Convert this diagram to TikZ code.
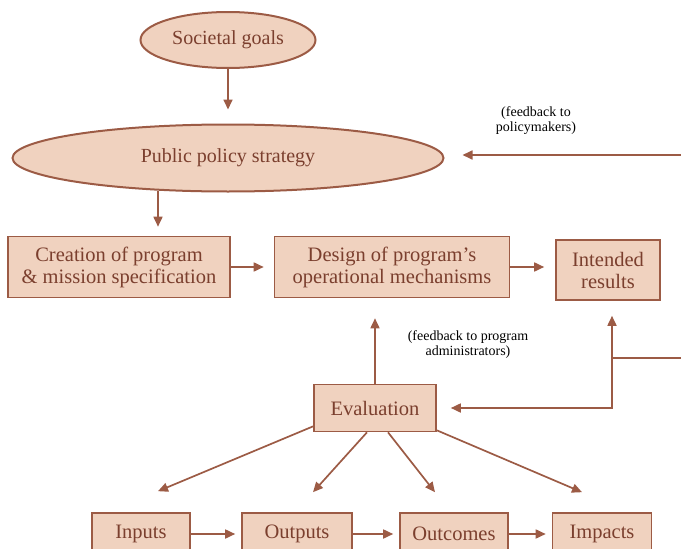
\documentclass[tikz,border=0pt]{standalone}
\usepackage{fontspec}
\setmainfont{Liberation Serif}
\usepackage{tikz}
\usetikzlibrary{arrows.meta,positioning,shapes.geometric}
\definecolor{brd}{HTML}{9C5B45}
\definecolor{fil}{HTML}{F0D2BF}
\definecolor{txt}{HTML}{7B3F2E}
\begin{document}
\begin{tikzpicture}[x=1pt,y=-1pt,
 box/.style={draw=brd, line width=1.6pt, fill=fil, text=txt, align=center, inner sep=2pt, font=\fontsize{20.5}{22}\selectfont},
 ell/.style={ellipse, draw=brd, line width=2pt, fill=fil, text=txt, inner sep=0pt, font=\fontsize{20}{20}\selectfont},
 arr/.style={-{Triangle[length=10pt,width=9pt]}, line width=1.7pt, brd},
 note/.style={align=center, font=\fontsize{14}{15}\selectfont}]

 \useasboundingbox (0,0) rectangle (681,549);
 \clip (0,0) rectangle (681,549);

 % --- top: goals and strategy ---
 \node[ell, minimum width=175pt, minimum height=56pt] (soc) at (228,40) {Societal goals};
 \node[ell, minimum width=431pt, minimum height=67pt] (pps) at (228,158) {Public policy strategy};

 % --- program row ---
 \node[box, minimum width=222pt, minimum height=61pt] (creat) at (119,267) {Creation of program\\\& mission specification};
 \node[box, minimum width=235pt, minimum height=61pt] (design) at (392,267) {Design of program's\\operational mechanisms};
 \node[box, minimum width=104pt, minimum height=60pt] (intend) at (608,270) {Intended\\results};

 % --- evaluation and measures ---
 \node[box, minimum width=122pt, minimum height=47pt] (eval) at (375,408) {Evaluation};
 \node[box, minimum width=98pt, minimum height=42pt] (inputs) at (141,534) {Inputs};
 \node[box, minimum width=110pt, minimum height=42pt] (outputs) at (297,534) {Outputs};
 \node[box, minimum width=108pt, minimum height=42pt] (outcomes) at (454,534) {Outcomes};
 \node[box, minimum width=99pt, minimum height=42pt] (impacts) at (602,534) {Impacts};

 \node[note] (fbpol) at (536,121) {(feedback to\\policymakers)};
 \node[note] (fbadm) at (468,345) {(feedback to program\\administrators)};

 \coordinate (ptin) at (681,155);
 \coordinate (rin) at (681,358);
 \coordinate (jn) at (612,358);
 \coordinate (pdrop) at ([xshift=-70pt,yshift=2pt]pps.south);

 \draw[arr] (soc.south) -- ([yshift=14pt]pps.north);
 \draw[arr] (pdrop) -- ([yshift=9pt]pdrop |- creat.north);
 \draw[arr, shorten >=10pt] (creat.east) -- (design.west);
 \draw[arr, shorten >=11pt] (design.east) -- (design.east -| intend.west);
 \draw[arr] (ptin) -- ([xshift=18pt]pps.east |- ptin);

 \draw[arr] (eval.north) -- ([yshift=-20pt]eval.north |- design.south);
 \draw[brd, line width=1.7pt] (rin) -- (jn);
 \draw[{Triangle[length=10pt,width=9pt]}-{Triangle[length=10pt,width=9pt]}, line width=1.7pt, brd]
  ([xshift=14pt]eval.east) -| ([yshift=-15pt]jn |- intend.south);

 \draw[arr] ([yshift=6pt]eval.south west) -- ([xshift=17pt,yshift=21pt]inputs.north);
 \draw[arr] ([xshift=-8pt]eval.south) -- ([xshift=16pt,yshift=20pt]outputs.north);
 \draw[arr] ([xshift=13pt]eval.south) -- ([xshift=-19pt,yshift=20pt]outcomes.north);
 \draw[arr] ([yshift=2pt]eval.south east) -- ([xshift=-20pt,yshift=20pt]impacts.north);

 \draw[arr, shorten >=6pt] (inputs.east) -- (outputs.west);
 \draw[arr, shorten >=6pt] (outputs.east) -- (outcomes.west);
 \draw[arr, shorten >=6pt] (outcomes.east) -- (impacts.west);
\end{tikzpicture}
\end{document}
